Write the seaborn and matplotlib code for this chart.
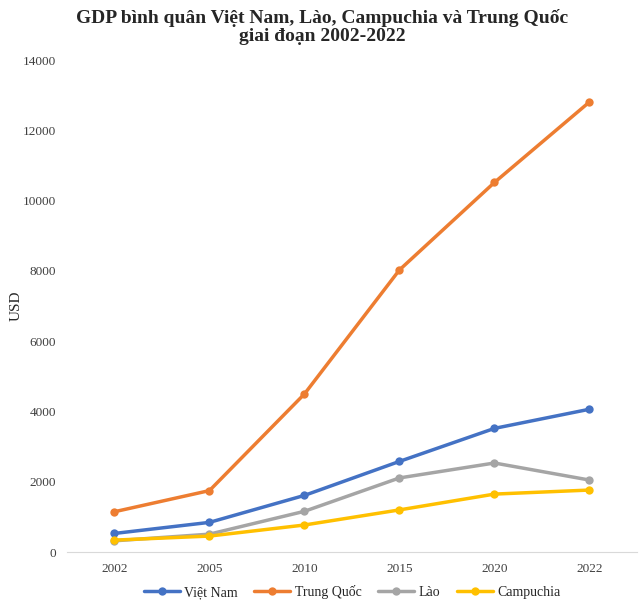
import pandas as pd
import matplotlib.pyplot as plt
import seaborn as sns

years = ['2002', '2005', '2010', '2015', '2020', '2022']
viet_nam = [530, 845, 1613, 2580, 3520, 4065]
trung_quoc = [1148, 1750, 4500, 8030, 10520, 12810]
lao = [320, 510, 1160, 2110, 2535, 2050]
campuchia = [340, 455, 770, 1200, 1650, 1765]

countries = ['Việt Nam', 'Trung Quốc', 'Lào', 'Campuchia']
colors = ['#4472C4', '#ED7D31', '#A5A5A5', '#FFC000']

df = pd.DataFrame({
    'year': years * 4,
    'gdp': viet_nam + trung_quoc + lao + campuchia,
    'country': [c for c in countries for _ in years],
})

sns.set_style('white')
plt.rcParams['font.family'] = ['Liberation Serif', 'DejaVu Serif']

fig = plt.figure(figsize=(6.44, 6.08), dpi=100)
ax = fig.add_axes([0.104, 0.092, 0.885, 0.809])

sns.lineplot(data=df, x='year', y='gdp', hue='country', hue_order=countries,
             palette=colors, marker='o', markersize=6, markeredgewidth=0,
             linewidth=2.5, ax=ax)

ax.set_xlim(-0.5, 5.5)
ax.set_ylim(0, 14000)
ax.set_yticks(range(0, 14001, 2000))
ax.set_xlabel('')
ax.set_ylabel('USD', fontsize=11)
ax.yaxis.set_label_coords(-0.078, 0.5)
ax.tick_params(axis='both', labelsize=9.5, colors='#404040', length=0, pad=8)
for s in ['top', 'right', 'left']:
    ax.spines[s].set_visible(False)
ax.spines['bottom'].set_color('#D9D9D9')

fig.suptitle('GDP bình quân Việt Nam, Lào, Campuchia và Trung Quốc\ngiai đoạn 2002-2022',
             fontsize=14, fontweight='bold', y=0.986, linespacing=1.1)

ax.legend(loc='upper center', bbox_to_anchor=(0.5, -0.042), ncol=4, frameon=False,
          fontsize=10, handlelength=2.6, columnspacing=1.2, handletextpad=0.3)

plt.savefig('out.png', dpi=100)
